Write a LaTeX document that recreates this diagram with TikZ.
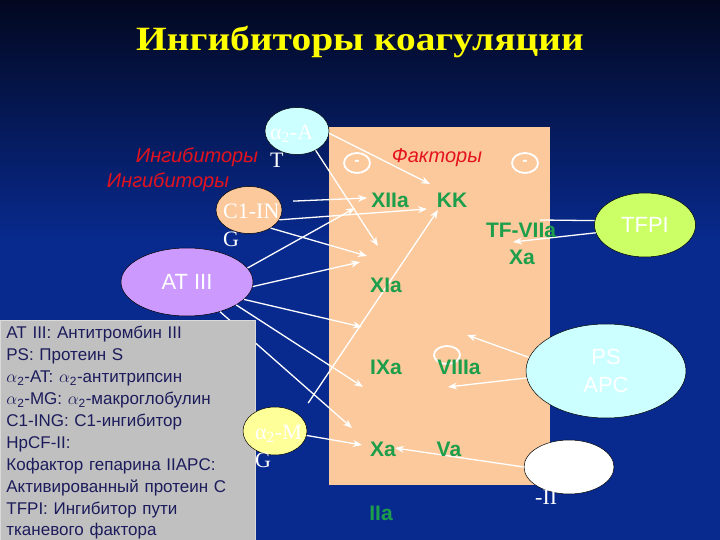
\documentclass[tikz,border=0pt]{standalone}
\usepackage{fontspec}
\setmainfont{Liberation Serif}
\setsansfont{Liberation Sans}
\newfontfamily\titlefont{Liberation Serif}[FakeStretch=1.16]
\usetikzlibrary{arrows.meta,shapes.geometric}
\definecolor{bgtop}{RGB}{3,8,32}
\definecolor{bgblue}{RGB}{8,42,142}
\definecolor{peach}{RGB}{251,201,156}
\definecolor{legendgray}{RGB}{192,192,192}
\definecolor{legendtext}{RGB}{28,28,92}
\definecolor{lightcyan}{RGB}{204,255,255}
\definecolor{violet}{RGB}{204,153,255}
\definecolor{paleyellow}{RGB}{255,255,153}
\definecolor{limegreen}{RGB}{204,255,102}
\definecolor{tagred}{RGB}{228,18,30}
\definecolor{facgreen}{RGB}{28,158,74}
\definecolor{titleyellow}{RGB}{255,255,0}
\tikzset{
  line/.style={-{Stealth[length=9pt,width=7pt]}, draw=white, line width=1.3pt},
  plainline/.style={draw=white, line width=1.3pt},
  oval/.style={draw=black, ellipse, line width=0.5pt, inner sep=0pt},
  factor/.style={text=facgreen, font=\sffamily\bfseries\fontsize{21}{25}\selectfont, inner sep=1pt},
  tag/.style={text=tagred, font=\sffamily\itshape\fontsize{20}{24}\selectfont, inner sep=0pt},
  wlabel/.style={text=white, font=\rmfamily\fontsize{22}{28}\selectfont, align=left, inner sep=0pt, anchor=north west},
  wsans/.style={text=white, font=\sffamily\fontsize{22}{28}\selectfont, align=center},
  minusoval/.style={draw=white, ellipse, line width=1.8pt, minimum width=26pt, minimum height=20pt, inner sep=0pt, text=white, font=\sffamily\bfseries\fontsize{16}{16}\selectfont}
}
\begin{document}
\begin{tikzpicture}[x=1pt, y=-1pt]
  \useasboundingbox (0,0) rectangle (720,540);
  \fill[bgblue] (0,0) rectangle (720,540);
  \shade[top color=bgtop, bottom color=bgblue] (0,0) rectangle (720,240);

  \node[text=titleyellow, font=\titlefont\bfseries\fontsize{34}{38}\selectfont] (title) at (360,42) {Ингибиторы коагуляции};

  \node[fill=peach, minimum width=221pt, minimum height=358pt, inner sep=0pt] (panel) at (439.5,306) {};

  \node[tag] (inh1) at (197,157) {Ингибиторы};
  \node[tag] (inh2) at (168,182) {Ингибиторы};
  \node[tag] (fac) at (437,158) {Факторы};

  \node[minusoval] (minus1) at (357,163) {-};
  \node[minusoval] (minus2) at (525,163) {-};
  \node[minusoval, minimum height=18pt] (oval3) at (447,355) {};

  \node[oval, fill=lightcyan, minimum width=64pt, minimum height=47pt] (at2) at (297,131) {};
  \node[oval, fill=peach, minimum width=66pt, minimum height=47pt] (c1) at (249,210) {};
  \node[oval, fill=violet, minimum width=132pt, minimum height=68pt, wsans] (at3) at (187,282) {AT III};
  \node[oval, fill=limegreen, minimum width=101pt, minimum height=64pt, wsans] (tfpi) at (645,225) {TFPI};
  \node[oval, fill=lightcyan, minimum width=160pt, minimum height=94pt, wsans] (psapc) at (606,371) {PS\\APC};
  \node[oval, fill=white, minimum width=90pt, minimum height=54pt] (hpcf) at (569,467) {};

  \coordinate (kk1) at (430,184);
  \coordinate (xia1) at (378,246);
  \coordinate (xiia1) at (367,198);
  \coordinate (kk2) at (427,209);
  \coordinate (xia2) at (367,256);
  \coordinate (xiia2) at (355,208);
  \coordinate (xia3) at (360,262);
  \coordinate (ixa1) at (362,327);
  \coordinate (ixa2) at (363,387);
  \coordinate (xa1) at (352,428);
  \coordinate (kk3) at (438,210);
  \coordinate (xa2) at (362,445);
  \coordinate (viiia1) at (467,335);
  \coordinate (viiia2) at (448,387);
  \coordinate (xa3) at (395,448);
  \coordinate (tf1) at (540,220);
  \coordinate (tf2) at (513,242);

  \draw[line] (at2.-4) -- (kk1);
  \draw[line] (at2.-46) -- (xia1);
  \draw[line, shorten <=13pt] (c1.15) -- (xiia1);
  \draw[line] (c1.-18) -- (kk2);
  \draw[line] (c1.-40) -- (xia2);
  \draw[line] (at3.13) -- (xiia2);
  \draw[line] (at3.-4) -- (xia3);
  \draw[line] (at3.-17) -- (ixa1);
  \draw[line] (at3.-25) -- (ixa2);
  \draw[line] (at3.-42) -- (xa1);
  \draw[line] (psapc.170) -- (viiia1);
  \draw[line] (psapc.185) -- (viiia2);
  \draw[line] (hpcf.west) -- (xa3);
  \draw[plainline] (tfpi.175) -- (tf1);
  \draw[line] (tfpi.189) -- (tf2);

  \node[fill=legendgray, draw=legendgray!60!white, line width=0.8pt, anchor=north west,
        minimum width=255pt, minimum height=222pt, inner sep=6pt, text width=243pt,
        align=left, text=legendtext, font=\sffamily\fontsize{17}{21.9}\selectfont] (legend) at (0,320)
  {AT III: Антитромбин III\\
   PS: Протеин S\\
   $\alpha$\textsubscript{2}-AT: $\alpha$\textsubscript{2}-антитрипсин\\
   $\alpha$\textsubscript{2}-MG: $\alpha$\textsubscript{2}-макроглобулин\\
   C1-ING: C1-ингибитор\\
   HpCF-II:\\
   Кофактор гепарина IIAPC:\\
   Активированный протеин C\\
   TFPI: Ингибитор пути\\
   тканевого фактора};

  \node[oval, fill=paleyellow, minimum width=64pt, minimum height=48pt] (amg) at (275,431) {};
  \draw[line, shorten <=15pt] (amg.32) -- (kk3);
  \draw[line] (amg.-8) -- (xa2);

  \node[wlabel] (at2lbl) at (270,125) {α\textsubscript{2}-A\\T};
  \node[wlabel] (c1lbl) at (223,204) {C1-IN\\G};
  \node[wlabel] (amglbl) at (255,425) {α\textsubscript{2}-M\\G};
  \node[wlabel] (hpcflbl) at (535,462) {HpCF\\-II};

  \node[factor] (xiia) at (390,200) {XIIa};
  \node[factor] (kk) at (452,200) {KK};
  \node[factor] (tfviia) at (521,230) {TF-VIIa};
  \node[factor] (xatop) at (522,257) {Xa};
  \node[factor] (xia) at (386,285) {XIa};
  \node[factor] (ixa) at (386,367) {IXa};
  \node[factor] (viiia) at (459,367) {VIIIa};
  \node[factor] (xa) at (383,449) {Xa};
  \node[factor] (va) at (449,449) {Va};
  \node[factor] (iia) at (381,513) {IIa};
\end{tikzpicture}
\end{document}
